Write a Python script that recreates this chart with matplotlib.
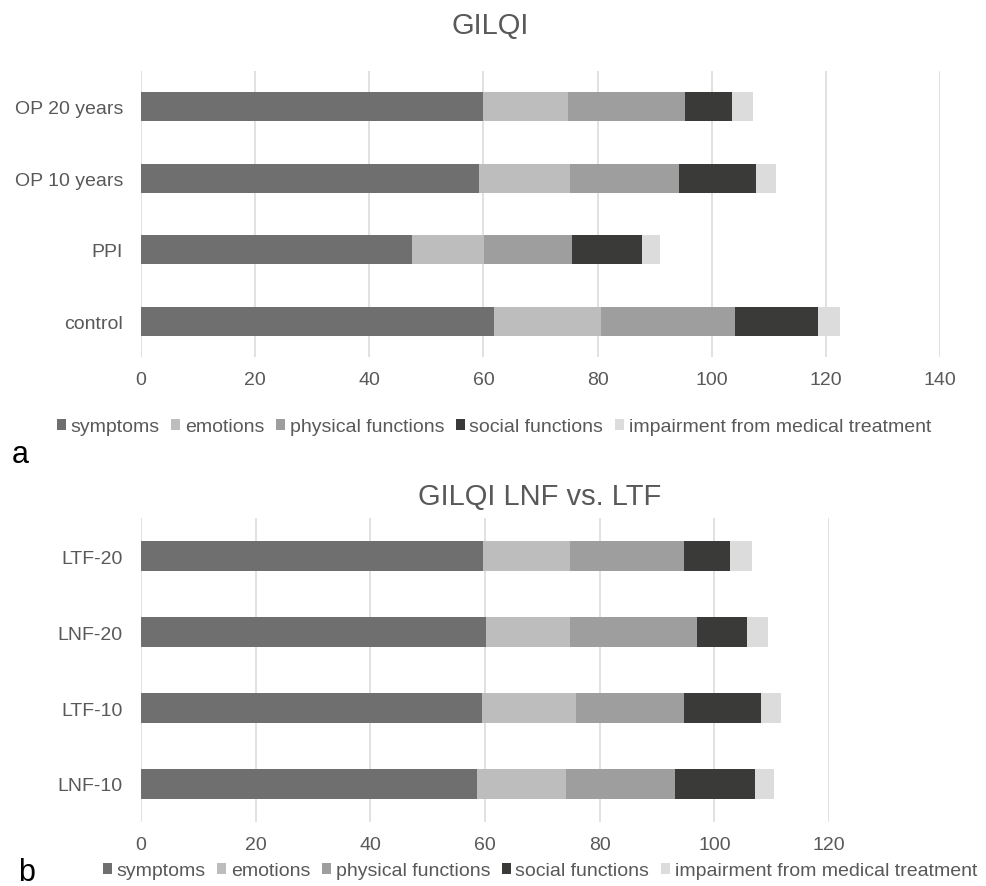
import numpy as np
import matplotlib
matplotlib.use("Agg")
import matplotlib.pyplot as plt
from matplotlib.patches import Patch

plt.rcParams["font.family"] = ["Liberation Sans", "DejaVu Sans"]

# panel a
groups_a = ["control", "PPI", "OP 10 years", "OP 20 years"]
symptoms_a = [61.9, 47.4, 59.2, 60.0]
emotions_a = [18.7, 12.7, 16.0, 14.8]
physical_a = [23.5, 15.5, 19.0, 20.6]
social_a = [14.6, 12.2, 13.5, 8.1]
impairment_a = [3.8, 3.1, 3.5, 3.7]

# panel b
groups_b = ["LNF-10", "LTF-10", "LNF-20", "LTF-20"]
symptoms_b = [58.6, 59.5, 60.2, 59.6]
emotions_b = [15.5, 16.3, 14.7, 15.2]
physical_b = [19.1, 18.9, 22.1, 19.9]
social_b = [13.9, 13.5, 8.7, 8.1]
impairment_b = [3.3, 3.5, 3.6, 3.7]

series_names = ["symptoms", "emotions", "physical functions", "social functions",
                "impairment from medical treatment"]
colors = ["#6f6f6f", "#bcbdbc", "#9e9e9e", "#3a3a38", "#dbdcdb"]

TXT = "#595959"
GRID = "#d9d9d9"
W, H = 987, 887


def px_axes(fig, x0, y0, x1, y1):
    return fig.add_axes([x0 / W, 1 - y1 / H, (x1 - x0) / W, (y1 - y0) / H])


def draw_panel(ax, groups, parts, xmax):
    pos = np.arange(len(groups))
    left = np.zeros(len(groups))
    for vals, c in zip(parts, colors):
        ax.barh(pos, vals, left=left, height=0.4, color=c, edgecolor="none", zorder=2)
        left += np.array(vals)
    ax.set_ylim(-0.5, len(groups) - 0.5)
    ax.set_xlim(0, xmax)
    ax.set_xticks(np.arange(0, xmax + 1, 20))
    ax.set_yticks(pos)
    ax.set_yticklabels(groups)
    ax.xaxis.grid(True, color=GRID, linewidth=1.1, zorder=0)
    ax.set_axisbelow(True)
    for s in ax.spines.values():
        s.set_visible(False)
    ax.tick_params(axis="both", length=0, labelsize=14, colors=TXT)
    ax.tick_params(axis="x", pad=10)
    ax.tick_params(axis="y", pad=13)


fig = plt.figure(figsize=(W / 100, H / 100), dpi=100)

ax1 = px_axes(fig, 141, 72, 940, 358)
draw_panel(ax1, groups_a, [symptoms_a, emotions_a, physical_a, social_a, impairment_a], 140)

ax2 = px_axes(fig, 141, 519, 829, 823)
draw_panel(ax2, groups_b, [symptoms_b, emotions_b, physical_b, social_b, impairment_b], 120)

fig.text(490 / W, 1 - 26 / H, "GILQI", ha="center", va="center", fontsize=21, color=TXT)
fig.text(540 / W, 1 - 497 / H, "GILQI LNF vs. LTF", ha="center", va="center", fontsize=21, color=TXT)

handles = [Patch(facecolor=c, edgecolor="none") for c in colors]
leg_kw = dict(loc="center", ncol=5, frameon=False, fontsize=14, handlelength=0.45,
              handleheight=0.45, handletextpad=0.25, columnspacing=0.6, borderpad=0,
              labelcolor=TXT)
fig.legend(handles, series_names, bbox_to_anchor=(494 / W, 1 - 428 / H), **leg_kw)
fig.legend(handles, series_names, bbox_to_anchor=(540 / W, 1 - 872 / H), **leg_kw)

fig.text(20 / W, 1 - 455 / H, "a", ha="center", va="center", fontsize=22, color="black")
fig.text(27 / W, 1 - 873 / H, "b", ha="center", va="center", fontsize=22, color="black")

fig.savefig("out.png", dpi=100)
